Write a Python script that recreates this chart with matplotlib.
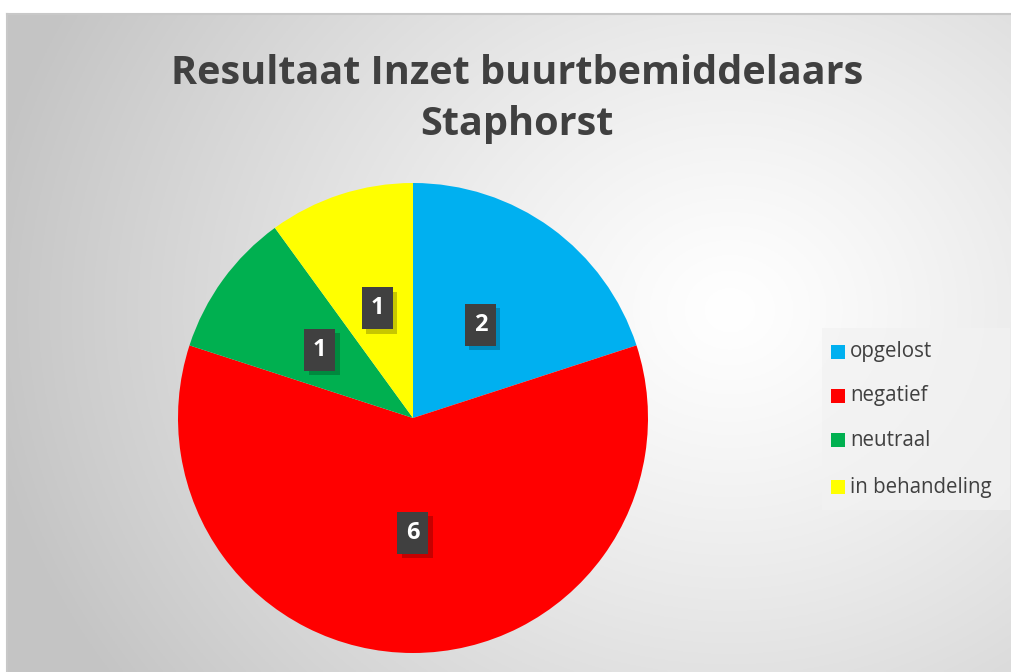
import numpy as np
import matplotlib
matplotlib.use("Agg")
import matplotlib.pyplot as plt
import matplotlib.patheffects as pe
from matplotlib.patches import Rectangle

categories = ["opgelost", "negatief", "neutraal", "in behandeling"]
values = [2, 6, 1, 1]
colors = ["#00B0F0", "#FF0000", "#00B050", "#FFFF00"]
title = "Resultaat Inzet buurtbemiddelaars\nStaphorst"

W, H = 1012, 672
fig = plt.figure(figsize=(W / 100, H / 100), dpi=100)
fig.patch.set_facecolor("white")

# background gradient panel
x0 = 7 / W
bg = fig.add_axes([x0, 0, 1 - x0, 1 - 14 / H])
bg.set_axis_off()
gx, gy = np.meshgrid(np.linspace(0, 1, 400), np.linspace(0, 1, 300))
cx, cy = 0.72, 0.55
d = np.sqrt(((gx - cx) * 1.0) ** 2 + ((gy - cy) * 0.75) ** 2)
d = np.clip(d / 0.75, 0, 1)
lum = 1.0 - 0.23 * d ** 1.2
img = np.dstack([lum, lum, lum])
bg.imshow(img, extent=[0, 1, 0, 1], aspect="auto", origin="lower")
bg.set_xlim(0, 1)
bg.set_ylim(0, 1)
fig.add_artist(plt.Line2D([x0, x0], [0, 1 - 14 / H], color="#C8C8C8", lw=1.5))
fig.add_artist(plt.Line2D([x0, 1], [1 - 14 / H, 1 - 14 / H], color="#C8C8C8", lw=1.5))

# pie
r_px = 235
cxp, cyp = 413, 418
ax = fig.add_axes([(cxp - r_px) / W, (H - cyp - r_px) / H, 2 * r_px / W, 2 * r_px / H])
ax.set_axis_off()
wedges, texts = ax.pie(values, colors=colors, startangle=90, counterclock=False,
                       radius=1.0, labels=[str(v) for v in values], labeldistance=0.49,
                       wedgeprops=dict(linewidth=0))
ax.set_xlim(-1, 1)
ax.set_ylim(-1, 1)
bw, bh = 31 / r_px, 42 / r_px
for t in texts:
    tx, ty = t.get_position()
    box = Rectangle((tx - bw / 2, ty - bh / 2), bw, bh, facecolor="#404040", edgecolor="none", zorder=3)
    box.set_path_effects([pe.SimplePatchShadow(offset=(3, -3), alpha=0.22, shadow_rgbFace="black"), pe.Normal()])
    ax.add_patch(box)
    t.set_ha("center")
    t.set_va("center")
    t.set_color("white")
    t.set_fontsize(17)
    t.set_fontweight("bold")
    t.set_family("Open Sans")
    t.set_zorder(4)

# title
fig.text(517 / W, 1 - 99 / H, title, ha="center", va="center", fontsize=28.5, fontweight="bold",
         color="#404040", family="Open Sans", linespacing=1.42)

# legend
lx0, ly0, lx1, ly1 = 822, 328, 1010, 510
fig.add_artist(Rectangle((lx0 / W, 1 - ly1 / H), (lx1 - lx0) / W, (ly1 - ly0) / H,
                         transform=fig.transFigure, facecolor="#F2F2F2", alpha=0.7, edgecolor="none"))
ys = [352, 396, 440, 487]
for cat, col, yy in zip(categories, colors, ys):
    fig.add_artist(Rectangle((831 / W, 1 - (yy + 7) / H), 14 / W, 14 / H,
                             transform=fig.transFigure, facecolor=col, edgecolor="none"))
    fig.text(850 / W, 1 - yy / H, cat, ha="left", va="center", fontsize=14.8,
             color="#404040", family="Open Sans")

fig.savefig("out.png", dpi=100)
